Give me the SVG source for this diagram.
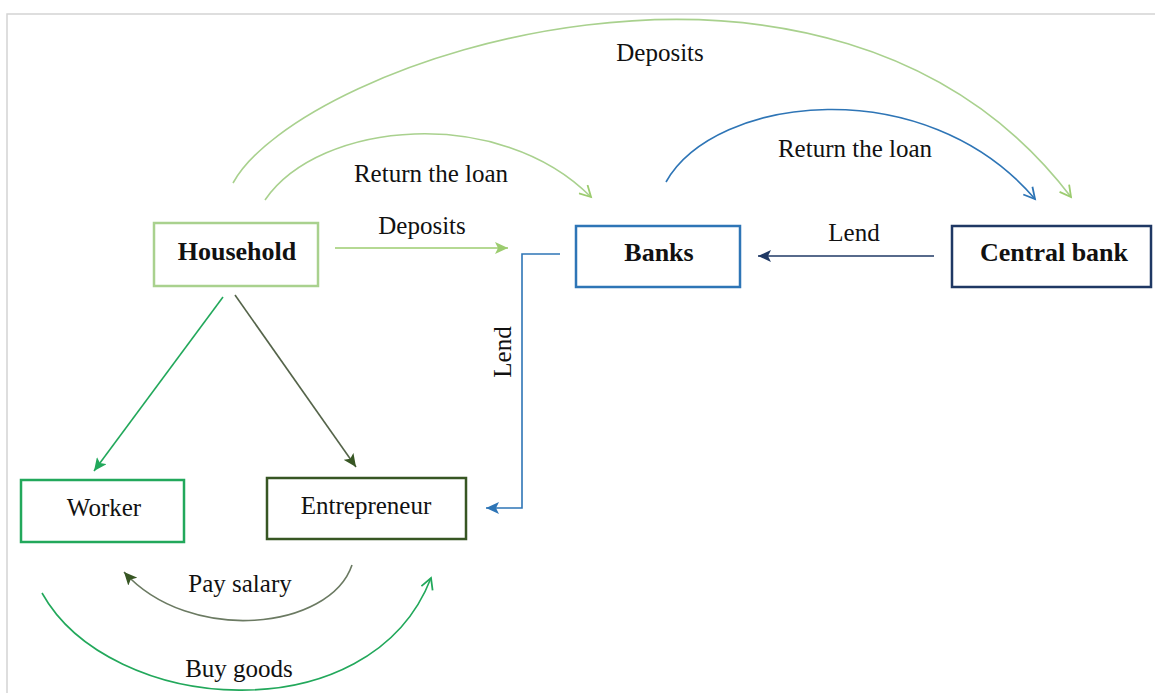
<svg xmlns="http://www.w3.org/2000/svg" width="1155" height="693" viewBox="0 0 1155 693">
<style>
text{font-family:"Liberation Serif","Times New Roman",serif;font-size:25px;fill:#111;text-anchor:middle}
.b{font-weight:bold;font-size:26px}
.box{fill:#fff;stroke-width:2.5}
.c{fill:none;stroke-width:1.6}
</style>
<defs>
<marker id="fLG" markerUnits="userSpaceOnUse" markerWidth="14" markerHeight="12" refX="13" refY="6" orient="auto"><path d="M0,0 L13,6 L0,12 L3,6 z" fill="#9ccc6f"/></marker>
<marker id="fNV" markerUnits="userSpaceOnUse" markerWidth="14" markerHeight="12" refX="13" refY="6" orient="auto"><path d="M0,0 L13,6 L0,12 L3,6 z" fill="#1f3864"/></marker>
<marker id="fBL" markerUnits="userSpaceOnUse" markerWidth="14" markerHeight="12" refX="13" refY="6" orient="auto"><path d="M0,0 L13,6 L0,12 L3,6 z" fill="#2e75b6"/></marker>
<marker id="fGR" markerUnits="userSpaceOnUse" markerWidth="14" markerHeight="12" refX="13" refY="6" orient="auto"><path d="M0,0 L13,6 L0,12 L3,6 z" fill="#22a85b"/></marker>
<marker id="fOL" markerUnits="userSpaceOnUse" markerWidth="14" markerHeight="12" refX="13" refY="6" orient="auto"><path d="M0,0 L13,6 L0,12 L3,6 z" fill="#375623"/></marker>
<marker id="oLG" markerUnits="userSpaceOnUse" markerWidth="16" markerHeight="14" refX="12" refY="7" orient="auto"><path d="M1,1 L12,7 L1,13" fill="none" stroke="#9ccc6f" stroke-width="1.8"/></marker>
<marker id="oBL" markerUnits="userSpaceOnUse" markerWidth="16" markerHeight="14" refX="12" refY="7" orient="auto"><path d="M1,1 L12,7 L1,13" fill="none" stroke="#2e75b6" stroke-width="1.8"/></marker>
<marker id="oGR" markerUnits="userSpaceOnUse" markerWidth="16" markerHeight="14" refX="12" refY="7" orient="auto"><path d="M1,1 L12,7 L1,13" fill="none" stroke="#22a85b" stroke-width="1.8"/></marker>
</defs>
<rect width="1155" height="693" fill="#fff"/>
<path d="M7,693 V14 H1155" fill="none" stroke="#d4d4d4" stroke-width="1.5"/>
<g id="connectors">
<path class="c" stroke="#a9d18e" d="M233,183 C300,60 830,-120 1071,197" marker-end="url(#oLG)"/>
<path class="c" stroke="#a9d18e" d="M265,200 C320,120 500,105 591,197" marker-end="url(#oLG)"/>
<path class="c" stroke="#2e75b6" d="M666,182 C715,95 925,70 1035,199" marker-end="url(#oBL)"/>
<path class="c" stroke="#9ccc6f" stroke-width="2" d="M335,248 H508" marker-end="url(#fLG)"/>
<path class="c" stroke="#1f3864" d="M934,256 H758" marker-end="url(#fNV)"/>
<path class="c" stroke="#2e75b6" d="M560,254 H522 V508 H486" marker-end="url(#fBL)"/>
<path class="c" stroke="#22a85b" d="M223,297 L94,471" marker-end="url(#fGR)"/>
<path class="c" stroke="#55644a" d="M235,295 L356,467" marker-end="url(#fOL)"/>
<path class="c" stroke="#6b7a62" d="M352,565 C330,630 190,645 124,572" marker-end="url(#fOL)"/>
<path class="c" stroke="#22a85b" d="M42,593 C110,715 370,735 431,578" marker-end="url(#oGR)"/>
<text x="660" y="61">Deposits</text>
<text x="431" y="182">Return the loan</text>
<text x="422" y="234">Deposits</text>
<text x="855" y="157">Return the loan</text>
<text x="854" y="241">Lend</text>
<text transform="translate(511,352) rotate(-90)">Lend</text>
<text x="240" y="592">Pay salary</text>
<text x="239" y="677">Buy goods</text>
</g>
<g id="household"><rect class="box" x="154" y="223" width="164" height="63" stroke="#a9d18e"/><text class="b" x="237" y="260">Household</text></g>
<g id="banks"><rect class="box" x="576" y="226" width="164" height="61" stroke="#2e75b6"/><text class="b" x="659" y="261">Banks</text></g>
<g id="central-bank"><rect class="box" x="952" y="226" width="199" height="61" stroke="#1f3864"/><text class="b" x="1054" y="261">Central bank</text></g>
<g id="worker"><rect class="box" x="21" y="480" width="163" height="62" stroke="#22a85b"/><text x="104" y="516">Worker</text></g>
<g id="entrepreneur"><rect class="box" x="267" y="478" width="199" height="61" stroke="#375623"/><text x="366" y="514">Entrepreneur</text></g>
</svg>
